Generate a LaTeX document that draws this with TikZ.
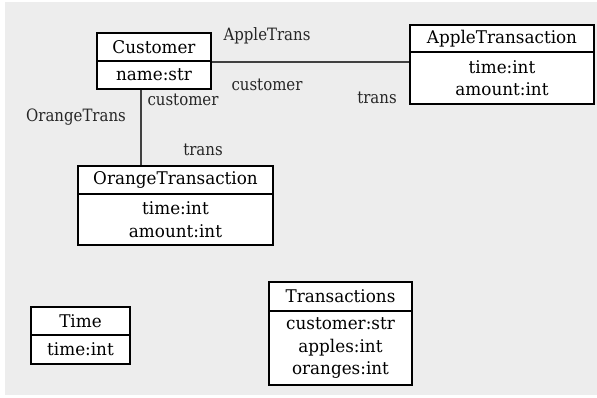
\documentclass[tikz,border=0pt]{standalone}
\usepackage{fontspec}
\setmainfont{DejaVu Serif}[FakeStretch=0.88]
\newfontfamily\classfont{DejaVu Serif}[FakeStretch=0.96]
\begin{document}
\begin{tikzpicture}[x=1pt,y=-1pt,
  every node/.style={inner sep=0pt},
  boxpart/.style={draw=black, line width=2pt, fill=white, align=center,
    font=\classfont\fontsize{17.5}{22.5}\selectfont},
  rolelabel/.style={text=black!85, font=\fontsize{17}{20}\selectfont},
  assoc/.style={draw=black!75, line width=1.5pt}]
  % page and canvas
  \useasboundingbox (0,0) rectangle (597,397);
  \fill[white] (0,0) rectangle (597,397);
  \fill[black!7] (5,2) rectangle (597,395);

  % Customer
  \node[boxpart, minimum width=114, minimum height=28] (custh) at (154,47) {Customer};
  \node[boxpart, minimum width=114, minimum height=28] (custb) at (154,75) {name:str};

  % AppleTransaction
  \node[boxpart, minimum width=184, minimum height=27] (appleh) at (502,38.5) {AppleTransaction};
  \node[boxpart, minimum width=184, minimum height=52] (appleb) at (502,78) {time:int\\amount:int};

  % OrangeTransaction
  \node[boxpart, minimum width=195, minimum height=28] (orangeh) at (175.5,180) {OrangeTransaction};
  \node[boxpart, minimum width=195, minimum height=51] (orangeb) at (175.5,219.5) {time:int\\amount:int};

  % Time
  \node[boxpart, minimum width=99, minimum height=28] (timeh) at (80.5,321) {Time};
  \node[boxpart, minimum width=99, minimum height=29] (timeb) at (80.5,349.5) {time:int};

  % Transactions
  \node[boxpart, minimum width=143, minimum height=29] (transh) at (340.5,296.5) {Transactions};
  \node[boxpart, minimum width=143, minimum height=74] (transb) at (340.5,348) {customer:str\\apples:int\\oranges:int};

  % associations
  \draw[assoc] (custh.south east) -- (appleh.south west |- custh.south east);
  \draw[assoc] (custb.south -| 141,0) -- (orangeh.north -| 141,0);

  % role names
  \node[rolelabel] (lat) at (267,36) {AppleTrans};
  \node[rolelabel] (lac) at (267,85) {customer};
  \node[rolelabel] (lap) at (377,98) {trans};
  \node[rolelabel] (lot) at (76,117) {OrangeTrans};
  \node[rolelabel] (loc) at (183,100) {customer};
  \node[rolelabel] (lop) at (203,150) {trans};
\end{tikzpicture}
\end{document}
